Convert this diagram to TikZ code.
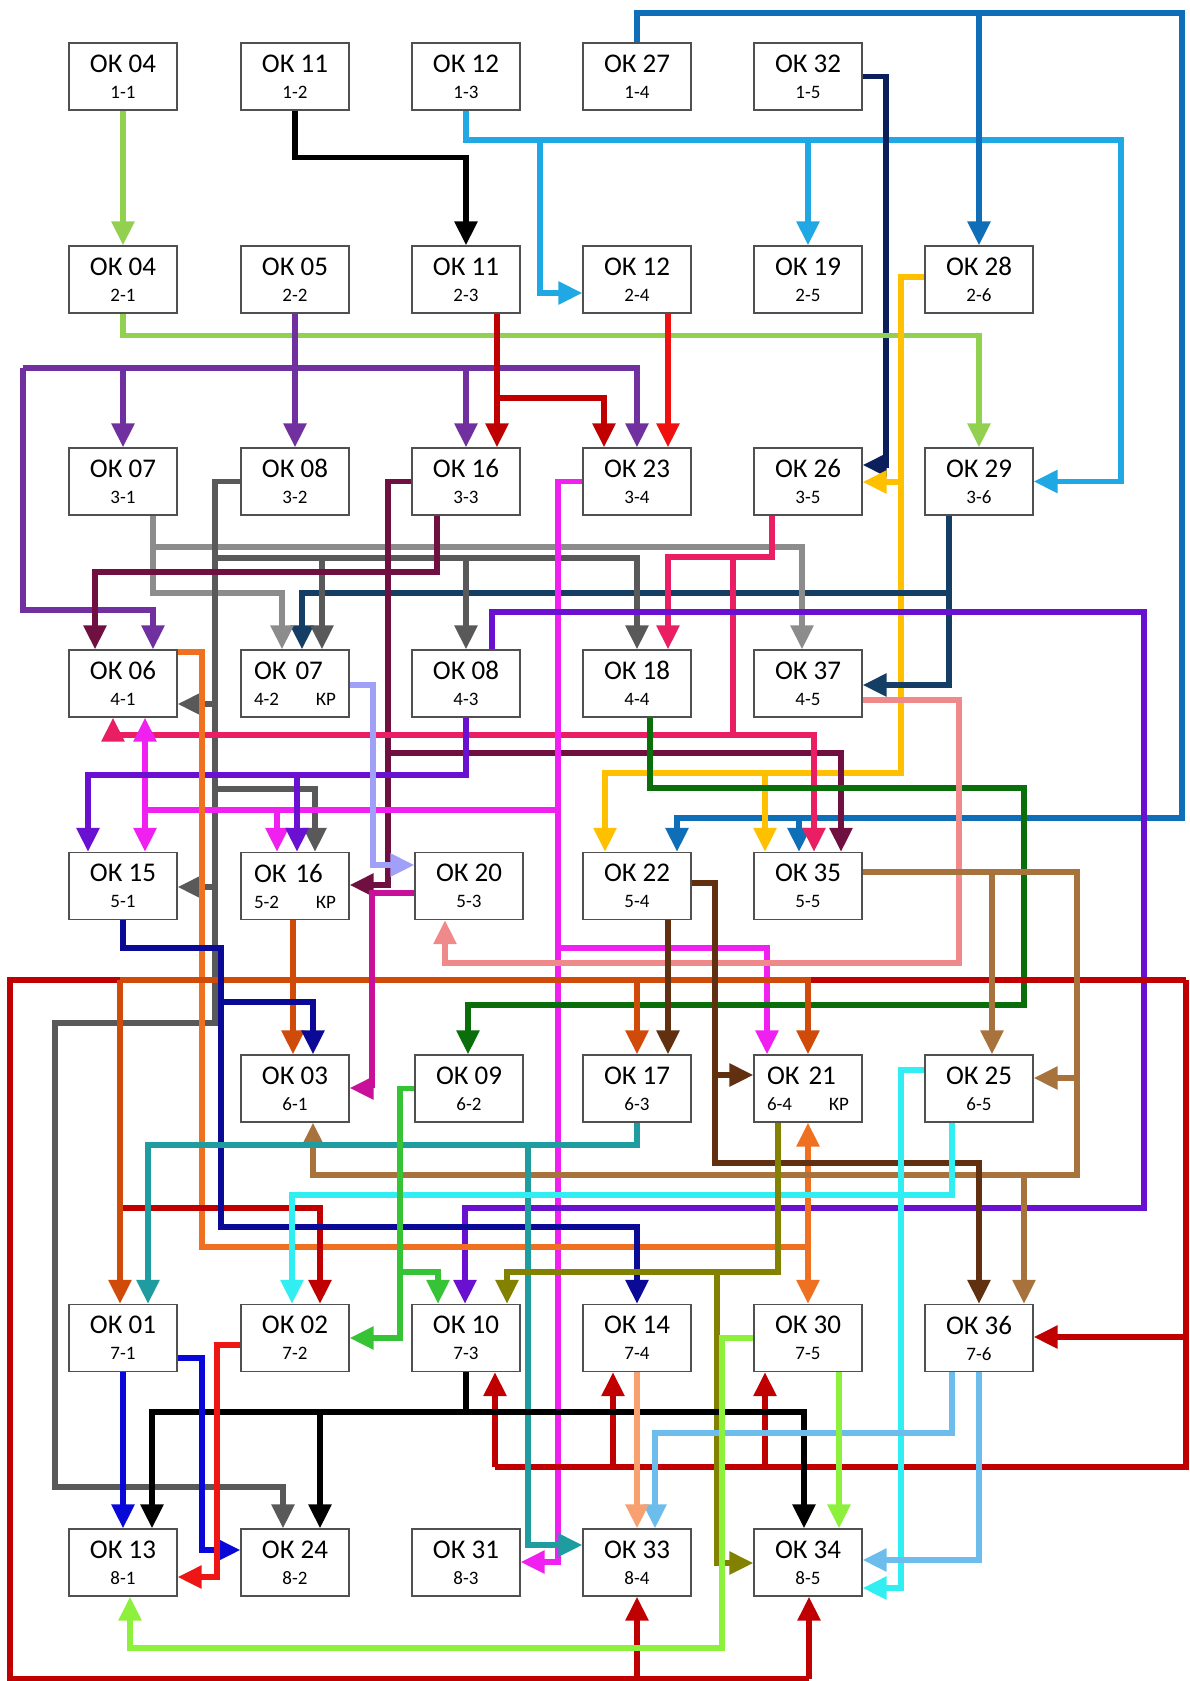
\documentclass[tikz,border=0pt]{standalone}
\usepackage{fontspec}
\setmainfont{Carlito}
\usetikzlibrary{arrows.meta}

\definecolor{boxgray}{HTML}{505050}
\definecolor{cLgreen}{HTML}{92D050}
\definecolor{cSky}{HTML}{1FA8E3}
\definecolor{cBlue}{HTML}{0E6EB8}
\definecolor{cNavy}{HTML}{0A1F5C}
\definecolor{cPurple}{HTML}{7030A0}
\definecolor{cDred}{HTML}{C00000}
\definecolor{cRed}{HTML}{F01010}
\definecolor{cGold}{HTML}{FFC000}
\definecolor{cSlate}{HTML}{153E64}
\definecolor{cLgray}{HTML}{8C8C8C}
\definecolor{cDgray}{HTML}{595959}
\definecolor{cMaroon}{HTML}{701040}
\definecolor{cCrimson}{HTML}{EA1F63}
\definecolor{cViolet}{HTML}{6A10D0}
\definecolor{cMagenta}{HTML}{F020F0}
\definecolor{cMvred}{HTML}{C8109A}
\definecolor{cLav}{HTML}{A0A0F8}
\definecolor{cDgreen}{HTML}{0A6E0A}
\definecolor{cSalmon}{HTML}{F08A8A}
\definecolor{cOrange}{HTML}{F07022}
\definecolor{cBurnt}{HTML}{D04A0A}
\definecolor{cTeal}{HTML}{1E9CA0}
\definecolor{cTan}{HTML}{A8723C}
\definecolor{cDbrown}{HTML}{603010}
\definecolor{cCyan}{HTML}{30EEF2}
\definecolor{cLblue}{HTML}{6CBDEC}
\definecolor{cPeach}{HTML}{F8A070}
\definecolor{cDblue}{HTML}{0808D8}
\definecolor{cDnavy}{HTML}{0A0A96}
\definecolor{cBred}{HTML}{EE1515}
\definecolor{cLime}{HTML}{8CF03C}
\definecolor{cOlive}{HTML}{828200}
\definecolor{cMgreen}{HTML}{36C436}

\newcommand{\okn}[1]{{\fontsize{9.5}{13}\selectfont #1}}

\begin{document}
\begin{tikzpicture}[x=0.5pt, y=-0.5pt,
    box/.style={draw=boxgray, line width=0.6pt, fill=white,
                minimum width=54pt, minimum height=33.5pt, inner sep=1pt,
                align=center, font=\fontsize{13.5}{13}\selectfont},
    krbox/.style={box, align=left, text width=41pt},
    bus/.style={line width=2.7pt},
    feed/.style={bus, -{Triangle[length=12pt,width=11pt]}}]
  \fill[white] (0,0) rectangle (1189,1681);
  \useasboundingbox (0,0) rectangle (1189,1681);

  % row 1
  \node[box] (b11) at (123,76.5) {ОК 04\\\okn{1-1}};
  \node[box] (b12) at (295,76.5) {ОК 11\\\okn{1-2}};
  \node[box] (b13) at (466,76.5) {ОК 12\\\okn{1-3}};
  \node[box] (b14) at (637,76.5) {ОК 27\\\okn{1-4}};
  \node[box] (b15) at (808,76.5) {ОК 32\\\okn{1-5}};
  % row 2
  \node[box] (b21) at (123,279.5) {ОК 04\\\okn{2-1}};
  \node[box] (b22) at (295,279.5) {ОК 05\\\okn{2-2}};
  \node[box] (b23) at (466,279.5) {ОК 11\\\okn{2-3}};
  \node[box] (b24) at (637,279.5) {ОК 12\\\okn{2-4}};
  \node[box] (b25) at (808,279.5) {ОК 19\\\okn{2-5}};
  \node[box] (b26) at (979,279.5) {ОК 28\\\okn{2-6}};
  % row 3
  \node[box] (b31) at (123,481.5) {ОК 07\\\okn{3-1}};
  \node[box] (b32) at (295,481.5) {ОК 08\\\okn{3-2}};
  \node[box] (b33) at (466,481.5) {ОК 16\\\okn{3-3}};
  \node[box] (b34) at (637,481.5) {ОК 23\\\okn{3-4}};
  \node[box] (b35) at (808,481.5) {ОК 26\\\okn{3-5}};
  \node[box] (b36) at (979,481.5) {ОК 29\\\okn{3-6}};
  % row 4
  \node[box]   (b41) at (123,683.5) {ОК 06\\\okn{4-1}};
  \node[krbox] (b42) at (295,683.5) {ОК 07\\\okn{4-2}\hfill\okn{КР}};
  \node[box]   (b43) at (466,683.5) {ОК 08\\\okn{4-3}};
  \node[box]   (b44) at (637,683.5) {ОК 18\\\okn{4-4}};
  \node[box]   (b45) at (808,683.5) {ОК 37\\\okn{4-5}};
  % row 5
  \node[box]   (b51) at (123,886) {ОК 15\\\okn{5-1}};
  \node[krbox] (b52) at (295,886) {ОК 16\\\okn{5-2}\hfill\okn{КР}};
  \node[box]   (b53) at (469,886) {ОК 20\\\okn{5-3}};
  \node[box]   (b54) at (637,886) {ОК 22\\\okn{5-4}};
  \node[box]   (b55) at (808,886) {ОК 35\\\okn{5-5}};
  % row 6
  \node[box]   (b61) at (295,1088.5) {ОК 03\\\okn{6-1}};
  \node[box]   (b62) at (469,1088.5) {ОК 09\\\okn{6-2}};
  \node[box]   (b63) at (637,1088.5) {ОК 17\\\okn{6-3}};
  \node[krbox] (b64) at (808,1088.5) {ОК 21\\\okn{6-4}\hfill\okn{КР}};
  \node[box]   (b65) at (979,1088.5) {ОК 25\\\okn{6-5}};
  % row 7
  \node[box] (b71) at (123,1338) {ОК 01\\\okn{7-1}};
  \node[box] (b72) at (295,1338) {ОК 02\\\okn{7-2}};
  \node[box] (b73) at (466,1338) {ОК 10\\\okn{7-3}};
  \node[box] (b74) at (637,1338) {ОК 14\\\okn{7-4}};
  \node[box] (b75) at (808,1338) {ОК 30\\\okn{7-5}};
  \node[box] (b76) at (979,1338) {ОК 36\\\okn{7-6}};
  % row 8
  \node[box] (b81) at (123,1562.5) {ОК 13\\\okn{8-1}};
  \node[box] (b82) at (295,1562.5) {ОК 24\\\okn{8-2}};
  \node[box] (b83) at (466,1562.5) {ОК 31\\\okn{8-3}};
  \node[box] (b84) at (637,1562.5) {ОК 33\\\okn{8-4}};
  \node[box] (b85) at (808,1562.5) {ОК 34\\\okn{8-5}};

  % rows 1-2
  \draw[feed, cLgreen] (b11.south) -- (b21.north);
  \draw[feed, black] (b12.south) -- ++(0,47) -| (b23.north);
  \draw[feed, cSky] (b13.south) |- (1121,140) |- (b36.east);
  \draw[feed, cSky] (540,140) |- (b24.west |- 0,293);
  \draw[feed, cSky] (808,140) -- (b25.north);
  \draw[feed, cBlue] (b14.north) |- (1182,13) |- (677,818) -- (b54.north -| 677,0);
  \draw[feed, cBlue] (979,13) -- (b26.north);
  \draw[feed, cBlue] (799,818) -- (b55.north -| 799,0);
  \draw[feed, cNavy] (b15.east) -| (886,465) -- (b35.east |- 0,465);

  % rows 2-3
  \draw[feed, cLgreen] (b21.south) -- ++(0,22) -| (b36.north);
  \draw[feed, cPurple] (b22.south) -- (b32.north);
  \draw[feed, cPurple] (23,368) -| (b34.north);
  \draw[feed, cPurple] (23,368) |- (153,610) -- (b41.north -| 153,0);
  \draw[feed, cPurple] (123,368) -- (b31.north);
  \draw[feed, cPurple] (466,368) -- (b33.north);
  \draw[feed, cDred] (b23.south -| 497,0) -- (b33.north -| 497,0);
  \draw[feed, cDred] (497,398) -| (b34.north -| 604,0);
  \draw[feed, cRed] (b24.south -| 668,0) -- (b34.north -| 668,0);
  \draw[feed, cGold] (b26.west |- 0,277) -| (901,773) -| (b54.north -| 605,0);
  \draw[feed, cGold] (901,482) -- (b35.east |- 0,482);
  \draw[feed, cGold] (765,773) -- (b55.north -| 765,0);

  % rows 3-4
  \draw[feed, cSlate] (b36.south -| 949,0) |- (b45.east |- 0,685);
  \draw[feed, cSlate] (949,593) -| (b42.north -| 302,0);
  \draw[feed, cLgray] (b31.south -| 153,0) |- (282,593) -- (b42.north -| 282,0);
  \draw[feed, cLgray] (153,547) -| (b45.north -| 802,0);
  \draw[feed, cDgray] (b32.west) -| (215,1023) -| (55,1487) -| (b82.north -| 283,0);
  \draw[feed, cDgray] (215,558) -| (b44.north);
  \draw[feed, cDgray] (322,558) -- (b42.north -| 322,0);
  \draw[feed, cDgray] (466,558) -- (b43.north);
  \draw[feed, cDgray] (215,704) -- (b41.east |- 0,704);
  \draw[feed, cDgray] (215,789) -| (b52.north -| 315,0);
  \draw[feed, cDgray] (215,887) -- (b51.east |- 0,887);
  \draw[feed, cMaroon] (b33.west) -| (388,885) -- (b52.east |- 0,885);
  \draw[feed, cMaroon] (388,753) -| (b55.north -| 841,0);
  \draw[feed, cMaroon] (b33.south -| 437,0) |- (95,572) -- (b41.north -| 95,0);
  \draw[feed, cCrimson] (b35.south -| 772,0) |- (668,557) -- (b44.north -| 668,0);
  \draw[feed, cCrimson] (733,557) |- (113,735) -- (b41.south -| 113,0);
  \draw[feed, cCrimson] (733,735) -| (b55.north -| 814,0);
  \draw[feed, cMagenta] (b34.west) -| (558,1562) -- (b83.east |- 0,1562);
  \draw[feed, cMagenta] (558,810) -| (b51.north -| 145,0);
  \draw[feed, cMagenta] (145,810) -- (b41.south -| 145,0);
  \draw[feed, cMagenta] (277,810) -- (b52.north -| 277,0);
  \draw[feed, cMagenta] (558,948) -| (b64.north -| 767,0);

  % rows 4-5
  \draw[feed, cViolet] (b43.north -| 492,0) |- (1144,612) |- (465,1208) -- (b73.north -| 465,0);
  \draw[feed, cViolet] (b43.south) |- (88,775) -- (b51.north -| 88,0);
  \draw[feed, cViolet] (297,775) -- (b52.north -| 297,0);
  \draw[feed, cDgreen] (b44.south -| 650,0) |- (1024,788) |- (468,1005) -- (b62.north -| 468,0);
  \draw[feed, cSalmon] (b45.east |- 0,700) -| (959,963) -| (b53.south -| 445,0);
  \draw[feed, cOrange] (b41.east |- 0,652) -| (202,1247) -| (b75.north -| 808,0);
  \draw[feed, cOrange] (808,1247) -- (b64.south -| 808,0);
  \draw[feed, cLav] (b42.east |- 0,685) -| (373,865) -- (b53.west |- 0,865);

  % red frame
  \draw[bus, cDred] (1186,980) -- (10,980) -- (10,1679) -- (809,1679);
  \draw[bus, cDred] (1186,980) |- (495,1467);
  \draw[feed, cDred] (b84.south |- 0,1679) -- (b84.south);
  \draw[feed, cDred] (809,1679) -- (b85.south -| 809,0);
  \draw[feed, cDred] (1186,1337) -- (b76.east |- 0,1337);
  \draw[feed, cDred] (495,1467) -- (b73.south -| 495,0);
  \draw[feed, cDred] (613,1467) -- (b74.south -| 613,0);
  \draw[feed, cDred] (765,1467) -- (b75.south -| 765,0);
  \draw[feed, cDred] (120,1208) -| (b72.north -| 320,0);

  % rows 5-6
  \draw[feed, cBurnt] (b52.south -| 293,0) -- (b61.north -| 293,0);
  \draw[feed, cBurnt] (120,980) -| (b64.north -| 808,0);
  \draw[feed, cBurnt] (120,980) -- (b71.north -| 120,0);
  \draw[feed, cBurnt] (637,980) -- (b63.north);
  \draw[feed, cMvred] (b53.west |- 0,893) -| (372,1088) -- (b61.east |- 0,1088);
  \draw[feed, cDnavy] (b51.south) |- (221,948) |- (637,1227) -- (b74.north);
  \draw[feed, cDnavy] (221,1002) -| (b61.north -| 313,0);
  \draw[feed, cTan] (b55.east |- 0,872) -| (1077,1175) -| (b61.south -| 313,0);
  \draw[feed, cTan] (992,872) -- (b65.north -| 992,0);
  \draw[feed, cTan] (1077,1078) -- (b65.east |- 0,1078);
  \draw[feed, cTan] (1024,1175) -- (b76.north -| 1024,0);
  \draw[feed, cDbrown] (b54.east |- 0,883) -| (715,1163) -| (b76.north -| 979,0);
  \draw[feed, cDbrown] (715,1075) -- (b64.west |- 0,1075);
  \draw[feed, cDbrown] (b54.south -| 668,0) -- (b63.north -| 668,0);

  % rows 6-7
  \draw[feed, cTeal] (b63.south) |- (148,1145) -- (b71.north -| 148,0);
  \draw[feed, cTeal] (528,1145) |- (b84.west |- 0,1545);
  \draw[feed, cCyan] (b65.west |- 0,1070) -| (901,1588) -- (b85.east |- 0,1588);
  \draw[feed, cCyan] (b65.south -| 952,0) |- (292,1195) -- (b72.north -| 292,0);
  \draw[feed, cOlive] (b64.south -| 778,0) |- (507,1272) -- (b73.north -| 507,0);
  \draw[feed, cOlive] (717,1272) |- (b85.west |- 0,1563);
  \draw[feed, cMgreen] (b62.west) -| (400,1338) -- (b72.east |- 0,1338);
  \draw[feed, cMgreen] (400,1272) -| (b73.north -| 438,0);

  % rows 7-8
  \draw[feed, black] (b73.south) |- (152,1412) -- (b81.north -| 152,0);
  \draw[feed, black] (466,1412) -| (b85.north -| 804,0);
  \draw[feed, black] (320,1412) -- (b82.north -| 320,0);
  \draw[feed, cLblue] (b76.south -| 952,0) |- (655,1433) -- (b84.north -| 655,0);
  \draw[feed, cLblue] (b76.south -| 979,0) |- (b85.east |- 0,1560);
  \draw[feed, cPeach] (b74.south) -- (b84.north);
  \draw[feed, cDblue] (b71.south) -- (b81.north);
  \draw[feed, cDblue] (b71.east |- 0,1358) -| (202,1550) -- (b82.west |- 0,1550);
  \draw[feed, cBred] (b72.west |- 0,1345) -| (217,1577) -- (b81.east |- 0,1577);
  \draw[feed, cLime] (b75.west) -| (722,1648) -| (b81.south -| 130,0);
  \draw[feed, cLime] (b75.south -| 839,0) -- (b85.north -| 839,0);
\end{tikzpicture}
\end{document}
